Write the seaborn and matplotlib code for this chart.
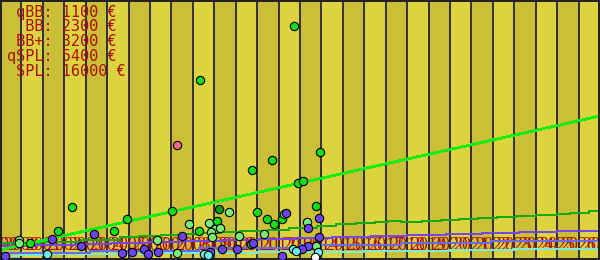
import matplotlib
matplotlib.use("Agg")
import matplotlib.pyplot as plt
import seaborn as sns
import pandas as pd

# ---------------- data ----------------
years = list(range(1999, 2028))
tick_labels = [str(y) for y in years]

tiers = ["qBB", "BB", "BB+", "qSPL", "SPL"]
tier_prices = [1100, 2300, 3200, 5400, 16000]

# scatter points (year, price in EUR) per group
g_x = [2012.72, 2008.33, 2011.69, 2010.76, 2013.93, 2012.91, 2013.14, 2002.36, 2007.03,
       2004.93, 2013.75, 2010.99, 2011.46, 2012.16, 2011.79, 2001.71, 2004.32, 2008.29,
       2009.13, 2000.40, 2010.71]
g_y = [23400, 18000, 10000, 9000, 10800, 7700, 7900, 5300, 4900,
       4100, 5400, 4800, 4100, 4100, 3600, 2900, 2900, 2900,
       3900, 1700, 1600]
d_x = [2009.22]
d_y = [5100]
l_x = [2007.82, 2009.69, 2012.25, 2013.33, 2008.75, 2009.03, 2009.27, 2008.85, 2008.89,
       2010.15, 2011.32, 2006.33, 1999.89, 1999.89, 2007.26, 2013.75]
l_y = [3600, 4800, 4600, 3800, 3700, 3100, 3200, 2800, 2300,
       2400, 2600, 2000, 2000, 1700, 700, 1400]
p_x = [2003.39, 2007.49, 2001.43, 2002.78, 1999.23, 2004.69, 2005.16, 2005.72, 2005.91,
       2006.37, 2012.35, 2013.89, 2013.37, 2010.81, 2013.89, 2013.37, 2013.09, 2009.36,
       2010.06, 2008.80, 2012.16]
p_y = [2600, 2400, 2100, 1400, 400, 700, 800, 1100, 600,
       800, 4700, 4200, 3200, 1700, 2300, 1400, 1100, 1100,
       1100, 800, 400]
c_x = [2001.19, 2008.52, 2008.71, 2012.67, 2012.81, 2013.84]
c_y = [600, 600, 500, 1100, 900, 800]
k_x = [2007.26]
k_y = [11500]
w_x = [2013.70]
w_y = [300]

# tier threshold step lines (year, price)
cyan_x = [1999.0, 1999.9, 2001.3, 2006.0, 2011.0, 2016.0, 2020.0, 2023.0, 2027.0]
cyan_v = [400, 500, 600, 700, 800, 900, 1000, 1100, 1100]
blue_x = [1999.0, 2003.2, 2008.3, 2013.0, 2017.7, 2021.9, 2027.0]
blue_v = [700, 900, 1200, 1500, 1700, 1900, 1900]
purple_x = [1999.0, 2000.7, 2002.5, 2004.2, 2005.9, 2007.6, 2009.4, 2011.1, 2012.8,
            2014.5, 2016.3, 2018.0, 2019.8, 2021.5, 2023.2, 2025.0, 2027.0]
purple_v = [1400, 1500, 1600, 1700, 1800, 1900, 2000, 2100, 2200,
            2300, 2400, 2500, 2600, 2700, 2800, 2900, 2900]
dkg_x = [1999.0, 2000.9, 2002.8, 2004.6, 2005.5, 2006.5, 2007.4, 2008.3, 2009.3, 2010.2,
         2011.5, 2012.5, 2013.8, 2014.7, 2015.6, 2016.5, 2017.1, 2017.7, 2018.7, 2019.6,
         2020.4, 2021.3, 2022.2, 2023.1, 2024.0, 2025.0, 2025.6, 2026.5, 2027.0]
dkg_v = [1700, 1800, 2000, 2300, 2400, 2500, 2600, 2700, 2800, 2900,
         3000, 3200, 3400, 3600, 3700, 3800, 3900, 3800, 3900, 4000,
         4100, 4200, 4300, 4400, 4500, 4600, 4700, 4900, 4900]
spl_x = [1999.0, 2027.0]
spl_v = [1000, 14400]

# ---------------- style ----------------
plt.rcParams["lines.antialiased"] = False
plt.rcParams["patch.antialiased"] = False

LIGHT = "#ddd33e"
DARK = "#cabf36"
GRID = "#333344"
RED = "#a81010"

fig = plt.figure(figsize=(6, 2.6), dpi=100)
ax = fig.add_axes([0, 0, 1, 1])
ax.set_xlim(1999, 2027)
ax.set_ylim(0, 26000)

for i, y0 in enumerate(years[:-1]):
    ax.axvspan(y0, y0 + 1, color=DARK if i % 2 == 0 else LIGHT, lw=0, zorder=0)
for y0 in years:
    ax.axvline(y0, color=GRID, lw=1.1, zorder=1)

line_specs = [
    (cyan_x, cyan_v, "#77eedd"),
    (blue_x, blue_v, "#6a6af0"),
    (purple_x, purple_v, "#7744ee"),
    (dkg_x, dkg_v, "#11aa11"),
]
for lx, lv, col in line_specs:
    sns.lineplot(x=lx, y=lv, ax=ax, color=col, lw=1.4, drawstyle="steps-post",
                 estimator=None, sort=False, zorder=2)
sns.lineplot(x=spl_x, y=spl_v, ax=ax, color="#11ee11", lw=1.3, estimator=None,
             sort=False, zorder=2)

groups = [
    (g_x, g_y, "#11dd11"),
    (d_x, d_y, "#119911"),
    (l_x, l_y, "#77ee77"),
    (p_x, p_y, "#6a44ee"),
    (c_x, c_y, "#66eeee"),
    (k_x, k_y, "#ee6688"),
    (w_x, w_y, "#ffffff"),
]
for gx, gy, col in groups:
    sns.scatterplot(x=gx, y=gy, ax=ax, color=col, s=36, edgecolor="black",
                    linewidth=0.8, zorder=3)

ax.set_xticks(years)
ax.set_xticklabels(tick_labels)
ax.tick_params(axis="x", direction="in", length=0, pad=-16.5, labelsize=13,
               labelcolor=RED, labelfontfamily="Liberation Serif")
for lab in ax.get_xticklabels():
    lab.set_zorder(4)
ax.set_yticks([])
ax.set_xlabel("")
ax.set_ylabel("")
for sp in ax.spines.values():
    sp.set_color("#222222")
    sp.set_linewidth(1.5)

for i, (t, p) in enumerate(zip(tiers, tier_prices)):
    ax.text(7, 260 - 12 - i * 14.8, f"{t:>4}: {p} €", transform=None,
            family="DejaVu Sans Mono", fontsize=11, color=RED, va="center",
            ha="left", zorder=5)

fig.savefig("out.png", dpi=100)
